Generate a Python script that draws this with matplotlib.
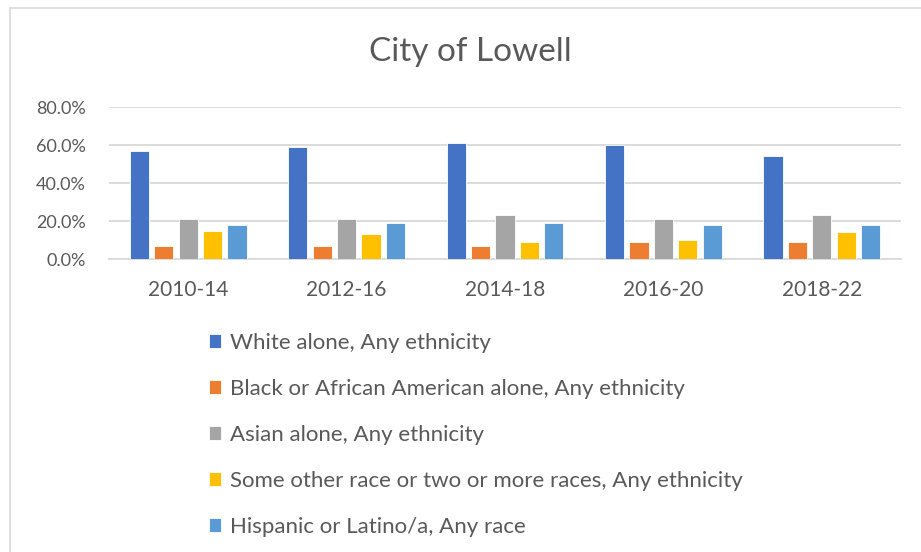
import numpy as np
import matplotlib
matplotlib.use('Agg')
import matplotlib.pyplot as plt
from matplotlib.patches import Rectangle
from matplotlib.ticker import FuncFormatter

plt.rcParams['font.family'] = ['Lato', 'DejaVu Sans']

# survey periods and shares of population by group
periods = ['2010-14', '2012-16', '2014-18', '2016-20', '2018-22']
white = [0.57, 0.59, 0.61, 0.60, 0.54]
black = [0.07, 0.07, 0.07, 0.09, 0.09]
asian = [0.21, 0.21, 0.23, 0.21, 0.23]
other = [0.15, 0.13, 0.09, 0.10, 0.14]
hispanic = [0.18, 0.19, 0.19, 0.18, 0.18]

series = [white, black, asian, other, hispanic]
names = ['White alone, Any ethnicity',
         'Black or African American alone, Any ethnicity',
         'Asian alone, Any ethnicity',
         'Some other race or two or more races, Any ethnicity',
         'Hispanic or Latino/a, Any race']
colors = ['#4472C4', '#ED7D31', '#A5A5A5', '#FFC000', '#5B9BD5']
txt = '#595959'

W, H = 921, 552
fig = plt.figure(figsize=(W / 100, H / 100), dpi=100)

# chart frame
fig.patches.append(Rectangle((10 / W, -0.1), 1.2, 1 - 8 / H + 0.1, transform=fig.transFigure,
                             fill=False, edgecolor='#D9D9D9', lw=1.2))

ax = fig.add_axes([109 / W, 1 - 259 / H, (901 - 109) / W, (259 - 107) / H])
x = np.arange(len(periods))
step = 0.154
bw = 0.122
handles = []
for i, (vals, c) in enumerate(zip(series, colors)):
    b = ax.bar(x + (i - 2) * step, vals, bw, color=c, edgecolor='white', lw=0.6, zorder=3)
    handles.append(b)

ax.set_xlim(-0.5, len(periods) - 0.5)
ax.set_ylim(0, 0.8)
ax.set_yticks(np.arange(0, 0.81, 0.2))
ax.yaxis.set_major_formatter(FuncFormatter(lambda v, p: '%.1f%%' % (v * 100)))
ax.set_xticks(x)
ax.set_xticklabels(periods)
ax.grid(axis='y', color='#D9D9D9', lw=1.3, zorder=0)
for s in ['top', 'right', 'left']:
    ax.spines[s].set_visible(False)
ax.spines['bottom'].set_color('#D9D9D9')
ax.spines['bottom'].set_linewidth(1.3)
ax.tick_params(axis='both', length=0, colors=txt)
ax.tick_params(axis='y', labelsize=13, pad=16.5)
ax.tick_params(axis='x', labelsize=15, pad=15)

fig.text(470 / W, 1 - 52 / H, 'City of Lowell', ha='center', va='center', fontsize=24, color=txt)

leg = fig.legend(handles, names, loc='upper left', bbox_to_anchor=(209 / W, 1 - 333 / H),
                 frameon=False, fontsize=16, labelcolor=txt, handlelength=0.55, handleheight=0.55,
                 handletextpad=0.4, labelspacing=1.17, borderpad=0, borderaxespad=0)

fig.savefig('out.png', dpi=100)
